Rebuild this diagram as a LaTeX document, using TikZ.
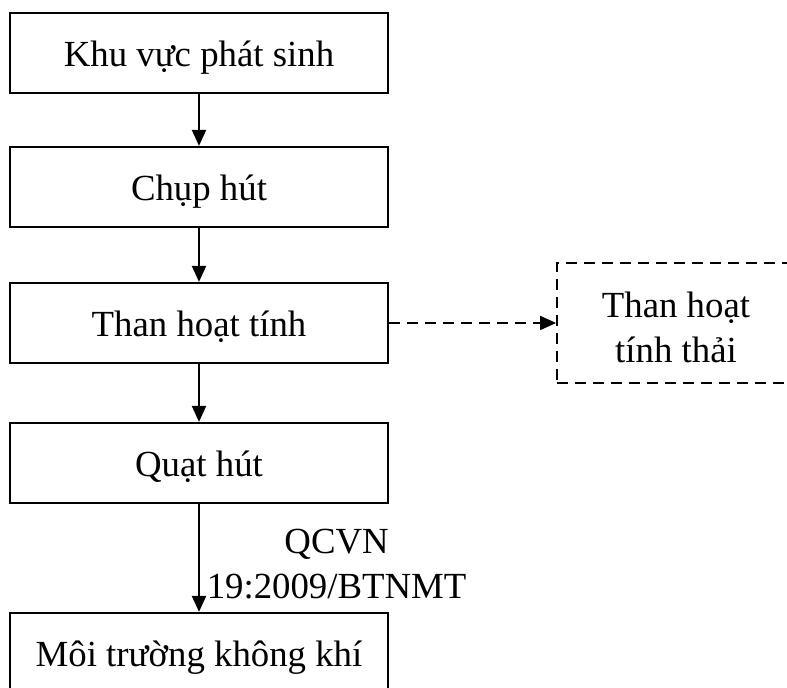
\documentclass[tikz,border=0pt]{standalone}
\usepackage{fontspec}
\setmainfont{Liberation Serif}
\usetikzlibrary{arrows.meta}
\begin{document}
\begin{tikzpicture}[x=0.5pt,y=-0.5pt,
  every node/.style={font=\fontsize{18.4pt}{22.5pt}\selectfont},
  stage/.style={draw, line width=1.1pt, minimum width=189pt, minimum height=40pt,
    inner sep=0pt, text height=16pt, text depth=2pt},
  waste/.style={draw, line width=0.9pt, dash pattern=on 5.5pt off 3.5pt,
    minimum width=119pt, minimum height=60pt, inner sep=0pt},
  flow/.style={line width=1.1pt, -{Triangle[length=8pt,width=7pt]}},
  wasteflow/.style={line width=0.9pt, dash pattern=on 5.5pt off 3.5pt,
    -{Triangle[length=8pt,width=7pt]}}
]
\useasboundingbox (0,0) rectangle (787,688);
\clip (0,0) rectangle (787,688);

% process chain
\node[stage] (src) at (199,53) {Khu vực phát sinh};
\node[stage] (hood) at (199,187) {Chụp hút};
\node[stage] (carbon) at (199,323) {Than hoạt tính};
\node[stage] (fan) at (199,463) {Quạt hút};
\node[stage] (air) at (199,653) {Môi trường không khí};

% spent carbon output
\node[waste] (spent) at (676,323) {};
\node[align=center, inner sep=0pt] (spenttext) at (676,327) {Than hoạt\\tính thải};

\draw[flow] (src) -- (hood);
\draw[flow] (hood) -- (carbon);
\draw[flow] (carbon) -- (fan);
\draw[flow] (fan) -- node[right=0pt, align=center, yshift=-3pt] {QCVN\\19:2009/BTNMT} (air);
\draw[wasteflow] (carbon) -- (spent);
\end{tikzpicture}
\end{document}
